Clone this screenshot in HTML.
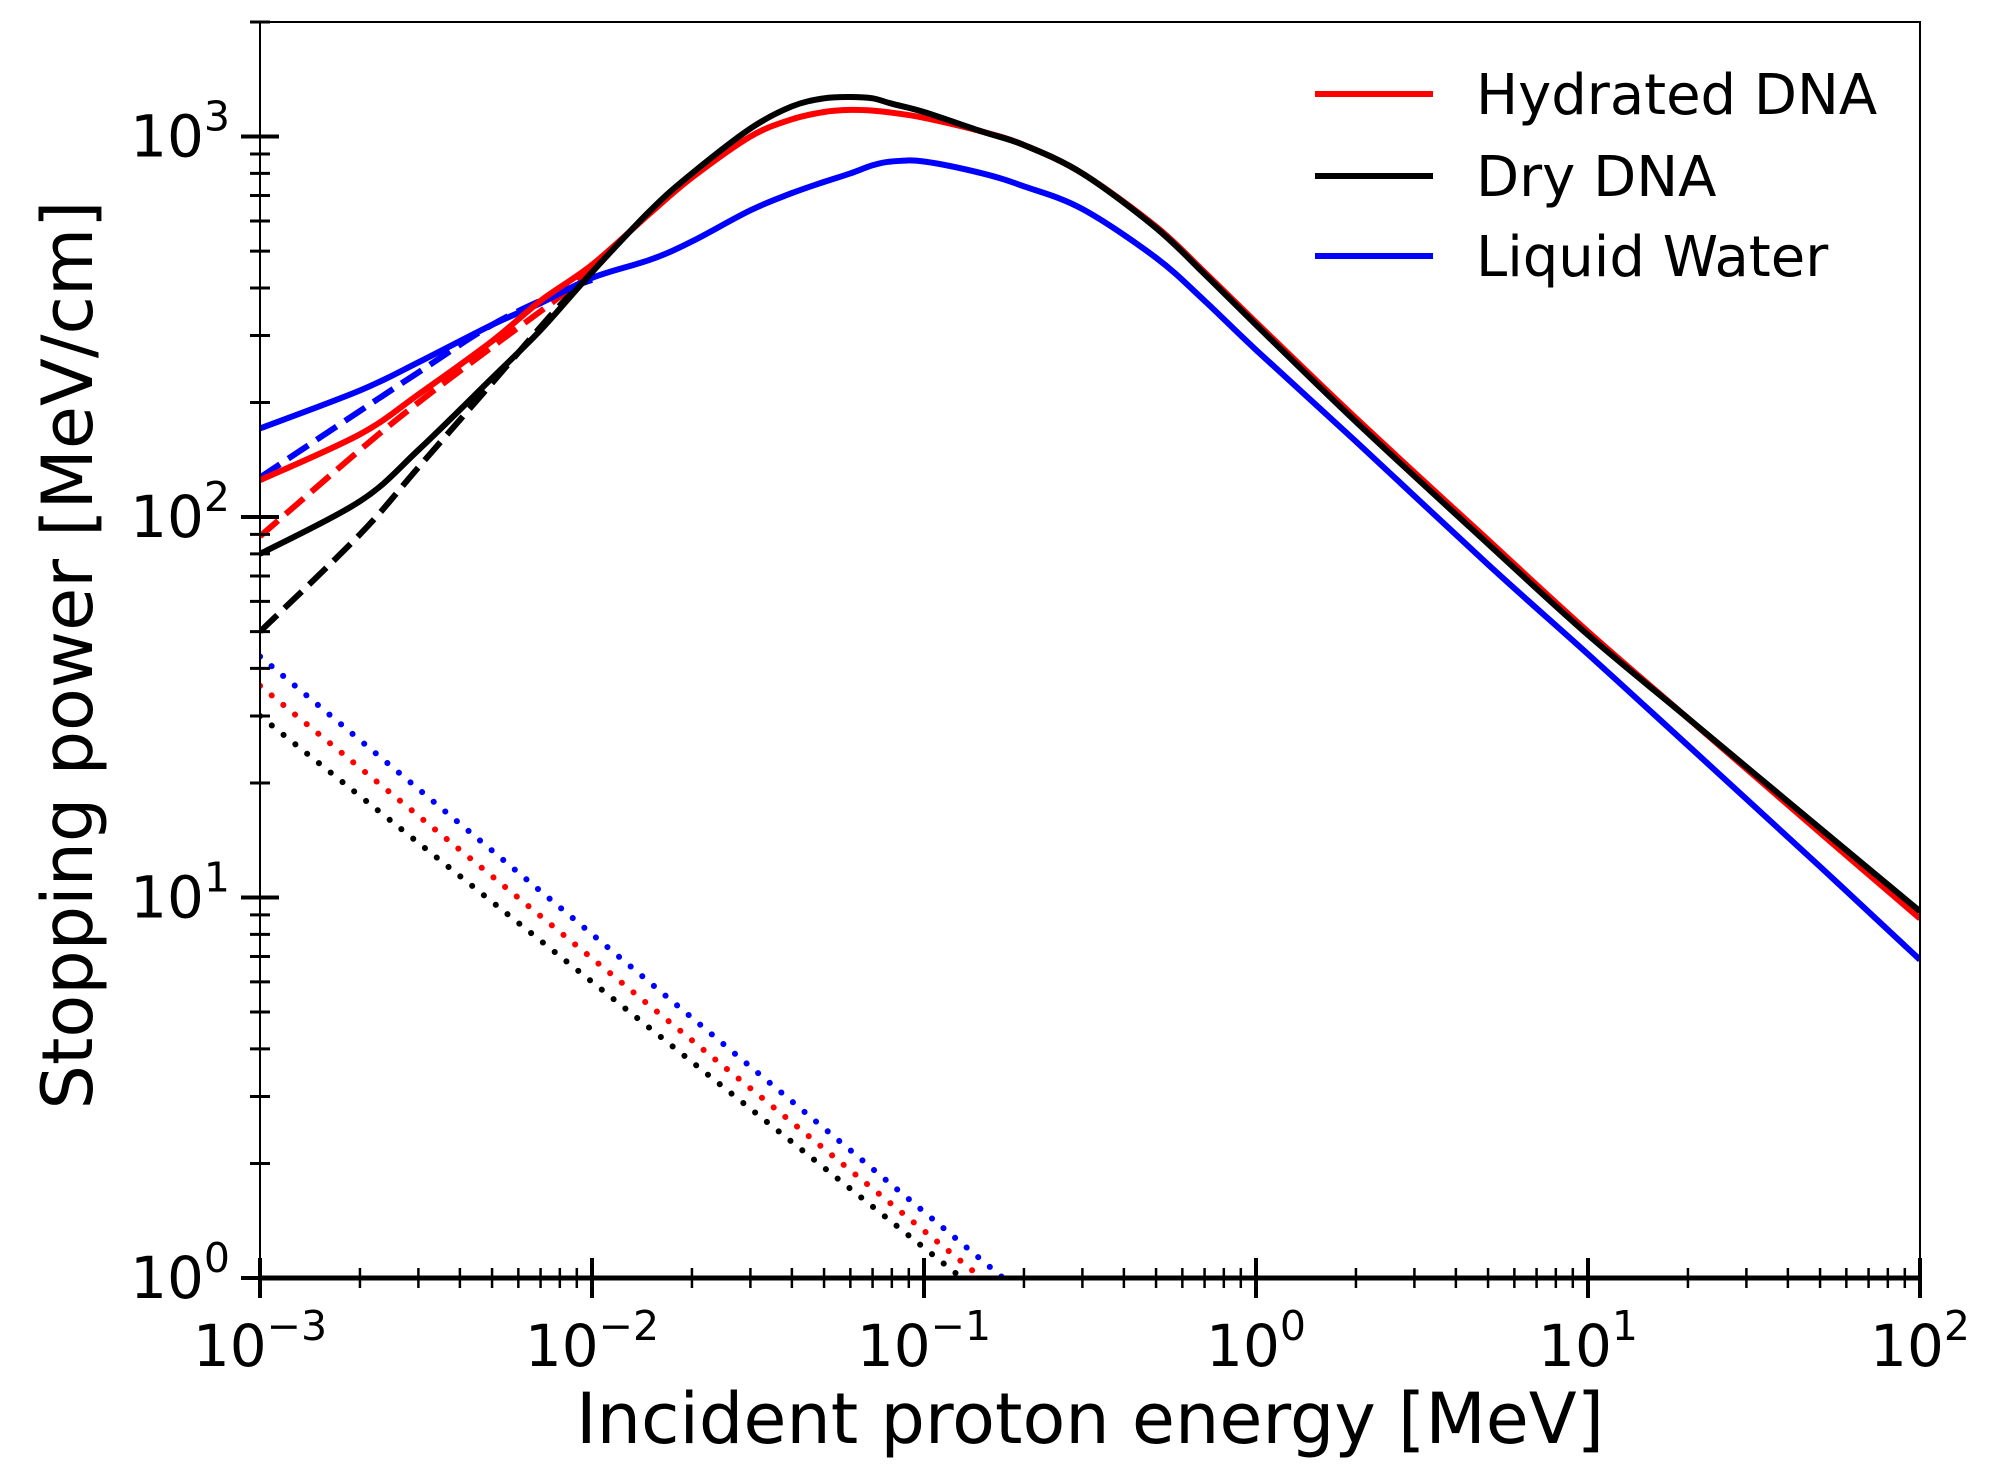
<!DOCTYPE html>
<html><head><meta charset="utf-8"><style>
html,body{margin:0;padding:0;background:#fff;overflow:hidden;width:1991px;height:1484px;}
svg{display:block;}
svg text{font-family:"DejaVu Sans","Liberation Sans",sans-serif;fill:#000;}
</style></head>
<body>
<svg id="chart" width="1991" height="1484" viewBox="0 0 1991 1484" xmlns="http://www.w3.org/2000/svg">
<g id="plot"></g>
</svg>
<script>
// Data (energy in MeV, stopping power in MeV/cm)
const energySolid = [0.001,0.002,0.003,0.005,0.007,0.01,0.015,0.02,0.03,0.04,0.05,0.06,0.07,0.08,0.1,0.15,0.2,0.3,0.5,0.7,1,2,5,10,20,50,100];
const hydratedSolid = [125,165,210,290,370,460,630,780,1000,1110,1160,1175,1170,1155,1120,1030,950,800,580,440,325,182,87,50,29.6,14.8,8.8];
const drySolid = [80,110,150,232,310,440,640,800,1050,1200,1260,1270,1260,1220,1160,1030,950,800,575,435,320,178,85,49,29.6,15.2,9.2];
const waterSolid = [171,215,255,320,365,425,475,530,640,710,760,800,840,860,860,800,740,645,480,370,275,158,75,43.6,25.1,12.05,6.86];
const energyDashed = [0.001,0.002,0.003,0.005,0.008,0.01];
const hydratedDashed = [89,150,200,280,380,460];
const dryDashed = [50,90,135,225,360,430];
const waterDashed = [127,190,240,320,390,420];
const energyDotted = [0.001,0.2];
const hydratedDotted = [36,0.81];
const dryDotted = [30,0.74];
const waterDotted = [43,0.9];
const xTickExps = [-3,-2,-1,0,1,2];
const yTickExps = [0,1,2,3];
const legendLabels = ["Hydrated DNA","Dry DNA","Liquid Water"];

const L=260,R=1920,T=22,B=1278;
const xMinL=-3,xMaxL=2,yMinL=0,yMaxL=Math.log10(2000);
const xs=v=>L+(Math.log10(v)-xMinL)/(xMaxL-xMinL)*(R-L);
const ys=v=>B-(Math.log10(v)-yMinL)/(yMaxL-yMinL)*(B-T);
const NS="http://www.w3.org/2000/svg";
const svg=document.getElementById('chart');
const g=document.getElementById('plot');
function mk(tag,attrs,parent){const e=document.createElementNS(NS,tag);for(const k in attrs)e.setAttribute(k,attrs[k]);(parent||svg).appendChild(e);return e;}

const defs=mk('defs',{});
const cp=mk('clipPath',{id:'clip'},defs);
mk('rect',{x:L,y:T,width:R-L,height:B-T},cp);
g.setAttribute('clip-path','url(#clip)');

function smoothPath(pts){
  let d='M'+pts[0][0].toFixed(1)+','+pts[0][1].toFixed(1);
  for(let i=0;i<pts.length-1;i++){
    const p0=pts[i-1]||pts[i],p1=pts[i],p2=pts[i+1],p3=pts[i+2]||pts[i+1];
    const c1x=p1[0]+(p2[0]-p0[0])/6,c1y=p1[1]+(p2[1]-p0[1])/6;
    const c2x=p2[0]-(p3[0]-p1[0])/6,c2y=p2[1]-(p3[1]-p1[1])/6;
    d+=' C'+c1x.toFixed(1)+','+c1y.toFixed(1)+' '+c2x.toFixed(1)+','+c2y.toFixed(1)+' '+p2[0].toFixed(1)+','+p2[1].toFixed(1);
  }
  return d;
}
function series(xsArr,ysArr,color,dash,name,cap){
  const pts=xsArr.map((x,i)=>[xs(x),ys(ysArr[i])]);
  const p=mk('path',{d:smoothPath(pts),fill:'none',stroke:color,'stroke-width':6,'stroke-dasharray':dash,'stroke-linejoin':'round','stroke-linecap':cap||'butt'},g);
  
  
}
series(energyDotted,waterDotted,'#0000ff','0.1 15','water-dotted-line','round');
series(energyDotted,hydratedDotted,'#ff0000','0.1 15','hydrated-dotted-line','round');
series(energyDotted,dryDotted,'#000000','0.1 15','dry-dotted-line','round');
series(energyDashed,waterDashed,'#0000ff','24 10','water-dashed-line');
series(energyDashed,hydratedDashed,'#ff0000','24 10','hydrated-dashed-line');
series(energyDashed,dryDashed,'#000000','24 10','dry-dashed-line');
series(energySolid,waterSolid,'#0000ff','','water-solid-line');
series(energySolid,hydratedSolid,'#ff0000','','hydrated-solid-line');
series(energySolid,drySolid,'#000000','','dry-solid-line');

const fr=mk('rect',{x:L,y:T,width:R-L,height:B-T,fill:'none',stroke:'#000','stroke-width':2});


const bx=mk('line',{x1:L,x2:R,y1:B,y2:B,stroke:'#000','stroke-width':5});



xTickExps.forEach(e=>{
  const x=xs(Math.pow(10,e));
  const t=mk('line',{x1:x,x2:x,y1:B-20,y2:B+20,stroke:'#000','stroke-width':4});
  
  
  const tx=mk('text',{x:x,y:B+88,'font-size':58,'text-anchor':'middle'});
  
  
  tx.innerHTML='10<tspan dy="-26" font-size="41">'+(e<0?'\u2212'+(-e):e)+'</tspan>';
  if(e<2)for(let m=2;m<10;m++){const xm=xs(m*Math.pow(10,e));
    const mt=mk('line',{x1:xm,x2:xm,y1:B-10,y2:B+10,stroke:'#000','stroke-width':2.5});
    
    }
});
yTickExps.forEach(e=>{
  const y=ys(Math.pow(10,e));
  const t=mk('line',{x1:L-19,x2:L+19,y1:y,y2:y,stroke:'#000','stroke-width':4});
  
  
  const tx=mk('text',{x:L-30,y:y+20,'font-size':58,'text-anchor':'end'});
  
  
  tx.innerHTML='10<tspan dy="-26" font-size="41">'+e+'</tspan>';
  for(let m=2;m<10;m++){const v=m*Math.pow(10,e);if(v>2000)break;const ym=ys(v);
    const mt=mk('line',{x1:L-10,x2:L+10,y1:ym,y2:ym,stroke:'#000','stroke-width':3});
    
    }
});
const tt=mk('line',{x1:L-10,x2:L+10,y1:T,y2:T,stroke:'#000','stroke-width':3});



const xt=mk('text',{x:(L+R)/2,y:1443,'font-size':70,'text-anchor':'middle'});


xt.textContent='Incident proton energy [MeV]';
const yt=mk('text',{x:0,y:0,'font-size':70,'text-anchor':'middle',transform:'translate(92,'+((T+B)/2+5)+') rotate(-90)'});


yt.textContent='Stopping power [MeV/cm]';

const colors=['#ff0000','#000000','#0000ff'];
const ly=[94,176,256];
legendLabels.forEach((lab,i)=>{
  const ln=mk('line',{x1:1315,x2:1433,y1:ly[i],y2:ly[i],stroke:colors[i],'stroke-width':6});
  
  
  const t=mk('text',{x:1476,y:ly[i]+20,'font-size':56});
  
  
  t.textContent=lab;
});
</script>
</body></html>
